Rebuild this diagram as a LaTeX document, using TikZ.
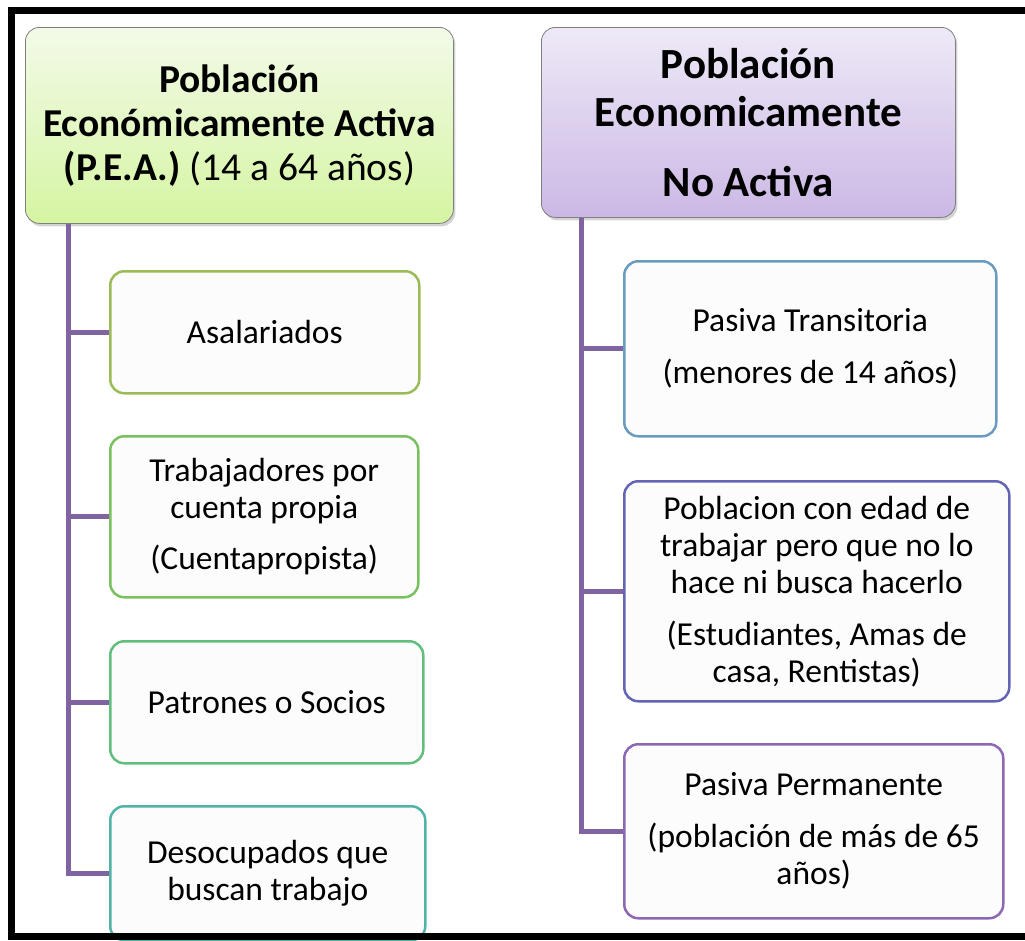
\documentclass[tikz,border=0pt]{standalone}
\usepackage{fontspec}
\setmainfont{Carlito}
\usetikzlibrary{shadows}

\definecolor{peaTop}{HTML}{F3FAE8}
\definecolor{peaBot}{HTML}{D5F5A2}
\definecolor{pnaTop}{HTML}{EEE9F7}
\definecolor{pnaBot}{HTML}{CBB8E5}
\definecolor{titleLine}{HTML}{7F7F7F}
\definecolor{asalLine}{HTML}{9BBB59}
\definecolor{trabLine}{HTML}{79C05F}
\definecolor{patrLine}{HTML}{62BE7D}
\definecolor{desoLine}{HTML}{4FB3A8}
\definecolor{ptraLine}{HTML}{6A9BBF}
\definecolor{pedadLine}{HTML}{6464B4}
\definecolor{ppermLine}{HTML}{8B67B4}
\definecolor{linkPurple}{HTML}{8064A2}
\definecolor{boxFill}{HTML}{FCFCFC}

\begin{document}
\begin{tikzpicture}[x=1pt, y=-1pt,
    titlebox/.style={draw=titleLine, line width=0.8pt, rounded corners=14pt, align=center,
        anchor=north west, inner sep=0pt,
        drop shadow={opacity=0.35, shadow xshift=2pt, shadow yshift=-3pt}},
    childbox/.style={line width=2.5pt, rounded corners=14pt, fill=boxFill, align=center,
        anchor=north west, inner sep=0pt, font=\fontsize{33.5}{37}\selectfont},
    link/.style={draw=linkPurple, line width=5pt}]
    \useasboundingbox (0, 0) rectangle (1025, 940);

    % Title boxes
    \node[titlebox, top color=peaTop, bottom color=peaBot, minimum width=428pt, minimum height=196pt,
        font=\fontsize{39.5}{44}\selectfont]
        (pea) at (25, 27) {\textbf{Población}\\ \textbf{Económicamente Activa}\\ \textbf{(P.E.A.)} (14 a 64 años)};
    \node[titlebox, top color=pnaTop, bottom color=pnaBot, minimum width=414pt, minimum height=190pt,
        font=\fontsize{43}{48}\selectfont]
        (pna) at (541, 27) {\textbf{Población}\\ \textbf{Economicamente}\\[22pt] \textbf{No Activa}};

    % Left column
    \node[childbox, draw=asalLine, minimum width=309pt, minimum height=122pt] (asal) at (109, 270) {Asalariados};
    \node[childbox, draw=trabLine, minimum width=308pt, minimum height=161pt] (trab) at (109, 435)
        {Trabajadores por\\ cuenta propia\\[14pt] (Cuentapropista)};
    \node[childbox, draw=patrLine, minimum width=313pt, minimum height=122pt] (patr) at (109, 640) {Patrones o Socios};
    \node[childbox, draw=desoLine, minimum width=315pt, minimum height=134pt] (deso) at (109, 805)
        {Desocupados que\\ buscan trabajo};

    % Right column
    \node[childbox, draw=ptraLine, minimum width=372pt, minimum height=175pt] (ptra) at (623, 260)
        {Pasiva Transitoria\\[15pt] (menores de 14 años)};
    \node[childbox, draw=pedadLine, minimum width=385pt, minimum height=220pt] (pedad) at (623, 480)
        {Poblacion con edad de\\ trabajar pero que no lo\\ hace ni busca hacerlo\\[15pt] (Estudiantes, Amas de\\ casa, Rentistas)};
    \node[childbox, draw=ppermLine, minimum width=379pt, minimum height=174pt] (pperm) at (623, 743)
        {Pasiva Permanente\\[15pt] (población de más de 65\\ años)};

    % Connectors
    \coordinate (peaBus) at (68, 0);
    \coordinate (pnaBus) at (581, 0);
    \draw[link] (pea.south -| peaBus) |- (deso.west);
    \draw[link] (asal.west) -- (asal.west -| peaBus);
    \draw[link] (trab.west) -- (trab.west -| peaBus);
    \draw[link] (patr.west) -- (patr.west -| peaBus);
    \draw[link] (pna.south -| pnaBus) |- (pperm.west);
    \draw[link] (ptra.west) -- (ptra.west -| pnaBus);
    \draw[link] (pedad.west) -- (pedad.west -| pnaBus);

    % Frame
    \draw[line width=7pt] (1030, 10.5) -- (11.5, 10.5) -- (11.5, 936.5) -- (1030, 936.5);
\end{tikzpicture}
\end{document}
